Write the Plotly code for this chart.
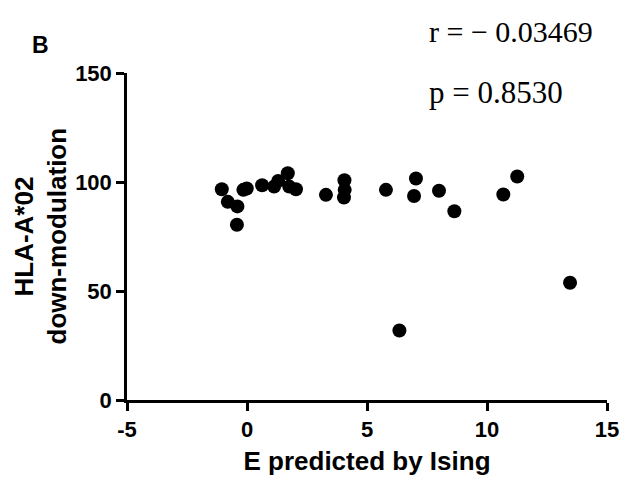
import plotly.graph_objects as go

# Data
e_ising = [-1.05, -0.80, -0.40, -0.42, -0.15, -0.01, 0.63, 1.13, 1.30, 1.70, 1.76, 2.04,
           3.29, 4.06, 4.07, 4.04, 5.79, 7.04, 6.96, 8.00, 8.64, 10.68, 11.26, 13.46, 6.35]
hla_down = [96.7, 90.9, 88.8, 80.4, 96.4, 97.0, 98.5, 97.9, 100.5, 104.0, 97.9, 96.7,
            94.1, 100.8, 96.4, 92.9, 96.4, 101.6, 93.6, 96.0, 86.6, 94.3, 102.5, 53.8, 31.9]
x_ticks = [-5, 0, 5, 10, 15]
y_ticks = [0, 50, 100, 150]

sans = "Liberation Sans, Arial, sans-serif"
serif_family = "Liberation Serif, Times New Roman, serif"

fig = go.Figure(go.Scatter(
    x=e_ising, y=hla_down, mode="markers",
    marker=dict(size=14, color="black", line=dict(width=0)),
))

axis_common = dict(showline=True, linecolor="black", linewidth=2.5, ticks="outside",
                   ticklen=8, tickwidth=2.5, tickcolor="black", showgrid=False,
                   zeroline=False,
                   tickfont=dict(family=sans, size=22, color="black"))

fig.update_layout(
    width=642, height=483,
    margin=dict(l=127, r=35, t=73, b=81),
    paper_bgcolor="white", plot_bgcolor="white",
    showlegend=False,
    font=dict(family=sans, size=21, color="black"),
    xaxis=dict(range=[-5, 15], tickvals=x_ticks,
               ticktext=["<b>%s</b>" % v for v in x_ticks],
               title=dict(text="<b>E predicted by Ising</b>", standoff=11,
                          font=dict(family=sans, size=26, color="black")),
               **axis_common),
    yaxis=dict(range=[0, 150], tickvals=y_ticks,
               ticktext=["<b>%s</b>" % v for v in y_ticks],
               **axis_common),
)

ann_font = dict(family=sans, size=26, color="black")
fig.add_annotation(text="<b>HLA-A*02</b>", xref="paper", yref="paper", x=0, y=0.5,
                   xshift=-104, textangle=-90, showarrow=False, font=ann_font,
                   xanchor="center", yanchor="middle")
fig.add_annotation(text="<b>down-modulation</b>", xref="paper", yref="paper", x=0, y=0.5,
                   xshift=-71, textangle=-90, showarrow=False, font=ann_font,
                   xanchor="center", yanchor="middle")
fig.add_annotation(text="<b>B</b>", xref="paper", yref="paper", x=0, y=1,
                   xshift=-87, yshift=28, showarrow=False,
                   font=dict(family=sans, size=23, color="black"),
                   xanchor="center", yanchor="middle")
fig.add_annotation(text="r = \u2212 0.03469", xref="paper", yref="paper", x=0, y=1,
                   xshift=300, yshift=42, showarrow=False,
                   font=dict(family=serif_family, size=30, color="black"),
                   xanchor="left", yanchor="middle")
fig.add_annotation(text="p = 0.8530", xref="paper", yref="paper", x=0, y=1,
                   xshift=300, yshift=-19, showarrow=False,
                   font=dict(family=serif_family, size=31, color="black"),
                   xanchor="left", yanchor="middle")

fig.write_html("out.html")
